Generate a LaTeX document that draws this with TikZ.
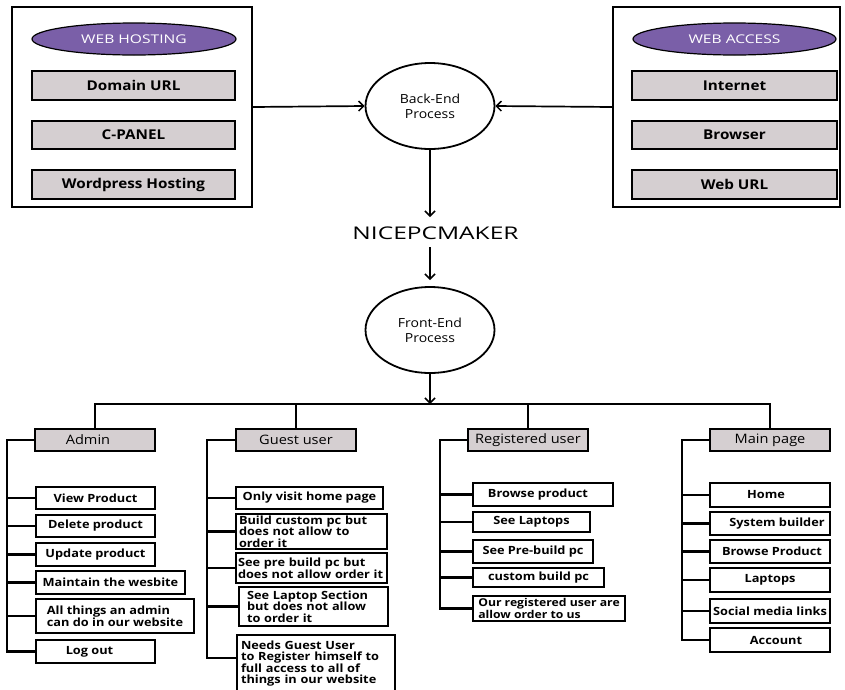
\documentclass[tikz,border=0pt]{standalone}
\usepackage{fontspec}
\setmainfont{Open Sans}
\newfontfamily\itemf{Open Sans}[FakeStretch=1.13]
\newfontfamily\headf{Open Sans}[FakeStretch=1.12]
\newfontfamily\ovalf{Open Sans}[FakeStretch=1.3]
\newfontfamily\titlef{Open Sans}[FakeStretch=1.4]
\usetikzlibrary{shapes.geometric,arrows.meta}
\definecolor{purp}{HTML}{7A5FA8}
\definecolor{grayfill}{HTML}{D5CFD1}
\begin{document}
\begin{tikzpicture}[x=1pt,y=-1pt,
  itemfont/.style={font=\itemf\fontsize{11.3}{11.6}\selectfont\bfseries},
  box/.style={draw,line width=1.7pt,fill=white,inner sep=1pt,itemfont},
  gbox/.style={draw,line width=1.7pt,fill=grayfill,inner sep=1pt,font=\itemf\fontsize{13.5}{14}\selectfont\bfseries},
  hbox/.style={draw,line width=1.7pt,fill=grayfill,inner sep=1pt,font=\headf\fontsize{13}{14}\selectfont,minimum width=120pt,minimum height=22pt},
  oval/.style={ellipse,draw,line width=1.2pt,fill=purp,text=white,font=\ovalf\fontsize{12}{13}\selectfont,minimum width=204pt,minimum height=32pt,inner sep=0pt},
  proc/.style={ellipse,draw,line width=1.8pt,fill=white,font=\headf\fontsize{12.5}{15}\selectfont,minimum width=129pt,minimum height=86pt,align=center,inner sep=0pt},
  outer/.style={draw,line width=1.7pt},
  arr/.style={line width=1.7pt,-{Straight Barb[length=5pt,width=10pt,line width=1.5pt]}},
  tree/.style={line width=2.6pt}
]
\useasboundingbox (0,0) rectangle (845,689);

% outer boxes
\node[outer,minimum width=240pt,minimum height=200pt] (lbox) at (132,107) {};
\node[outer,minimum width=227pt,minimum height=200pt] (rbox) at (726.5,107) {};

\node[oval] (wh) at (134,39) {WEB HOSTING};
\node[gbox,minimum width=203pt,minimum height=29pt] (l1) at (133.5,85.5) {Domain URL};
\node[gbox,minimum width=203pt,minimum height=28pt] (l2) at (133.5,135) {C-PANEL};
\node[gbox,minimum width=203pt,minimum height=29pt] (l3) at (133.5,184.5) {Wordpress Hosting};

\node[oval,minimum width=203pt] (wa) at (734.5,39) {WEB ACCESS};
\node[gbox,minimum width=205pt,minimum height=29pt] (r1) at (734.5,85.5) {Internet};
\node[gbox,minimum width=205pt,minimum height=28pt] (r2) at (734.5,135) {Browser};
\node[gbox,minimum width=205pt,minimum height=29pt] (r3) at (734.5,184.5) {Web URL};

% processes
\node[proc] (be) at (430,106) {Back-End\\Process};
\node[font=\titlef\fontsize{17.5}{18}\selectfont,inner sep=0pt] (nice) at (435.5,233) {NICEPCMAKER};
\node[proc] (fe) at (430,330) {Front-End\\Process};

\draw[arr] (lbox.east) -- (be.west);
\draw[arr] (rbox.west) -- (be.east);
\draw[arr] (be.south) -- (430,217);
\draw[arr] (430,247) -- (430,280);
\coordinate (bus) at (430,404);
\draw[arr] (fe.south) -- (bus);

% headers
\node[hbox] (admin) at (95,440) {Admin\hspace*{14pt}};
\node[hbox] (guest) at (296,440) {Guest user};
\node[hbox] (reg) at (528,440) {Registered user};
\node[hbox] (main) at (770,440) {Main page};

\draw[line width=1.6pt] (admin.north) -- (admin.north |- bus) -| (main.north);
\draw[line width=1.6pt] (guest.north) -- (guest.north |- bus);
\draw[line width=1.6pt] (reg.north) -- (reg.north |- bus);

% admin items
\node[box,minimum width=119pt,minimum height=22pt] (a1) at (95.5,498) {View Product};
\node[box,minimum width=119pt,minimum height=22pt] (a2) at (95.5,526) {Delete product};
\node[box,minimum width=119pt,minimum height=23pt] (a3) at (95.5,554.5) {Update product};
\node[box,minimum width=149pt,minimum height=23pt] (a4) at (110.5,582.5) {Maintain the wesbite};
\node[box,minimum width=158pt,minimum height=34pt,align=left] (a5) at (115,616) {All things an admin\\can do in our website};
\node[box,minimum width=119pt,minimum height=23pt] (a6) at (95.5,651.5) {Log out\hspace*{12pt}};
\draw[tree] (admin.west) -- ++(-27,0) coordinate (aT) -- (aT |- a6.west) -- (a6.west);
\foreach \n in {a1,a2,a3,a4,a5} \draw[tree] (\n.west) -- (\n.west -| aT);

% guest items
\node[box,minimum width=147pt,minimum height=22pt] (g1) at (309.5,498) {Only visit home page};
\node[box,minimum width=151pt,minimum height=35pt,text width=145pt,align=left] (g2) at (311.5,531.5) {Build custom pc but\\does not allow to\\order it};
\node[box,minimum width=151pt,minimum height=30pt,text width=147pt,align=left] (g3) at (311.5,568) {See pre build pc but\\does not allow order it};
\node[box,minimum width=149pt,minimum height=39pt,text width=133pt,align=left] (g4) at (313.5,606.5) {See Laptop Section\\but does not allow\\to order it};
\node[box,minimum width=158pt,minimum height=57pt,text width=150pt,align=left] (g5) at (316,663.5) {Needs Guest User\\to Register himself to\\full access to all of\\things in our website};
\draw[tree] (guest.west) -- ++(-28,0) coordinate (gT) -- (gT |- 0,658) -- (g5.west |- 0,658);
\draw[tree] (g1.west) -- (g1.west -| gT);
\draw[tree] (g2.west) -- (g2.west -| gT);
\draw[tree] (g3.west) -- (g3.west -| gT);
\draw[tree] (g4.west) -- (g4.west -| gT);

% registered items
\node[box,minimum width=140pt,minimum height=23pt] (rg1) at (543,494.5) {Browse product\hspace*{10pt}};
\node[box,minimum width=117pt,minimum height=20pt] (rg2) at (531.5,522) {See Laptops};
\node[box,minimum width=120pt,minimum height=23pt] (rg3) at (533,551.5) {See Pre-build pc};
\node[box,minimum width=131pt,minimum height=19pt] (rg4) at (538.5,577.5) {custom build pc};
\node[box,minimum width=152pt,minimum height=25pt,align=left,font=\itemf\fontsize{10.8}{11.2}\selectfont\bfseries] (rg5) at (549,608.5) {Our registered user are\\allow order to us};
\draw[tree] (reg.west) -- ++(-27,0) coordinate (rT) -- (rT |- rg5.west) -- (rg5.west);
\foreach \n in {rg1,rg2,rg3,rg4} \draw[tree] (\n.west) -- (\n.west -| rT);

% main page items
\node[box,minimum width=120pt,minimum height=24pt] (m1) at (770,495) {\hspace*{-8pt}Home};
\node[box,minimum width=120pt,minimum height=23pt] (m2) at (770,523.5) {\hspace*{14pt}System builder};
\node[box,minimum width=120pt,minimum height=23pt] (m3) at (770,551.5) {\hspace*{4pt}Browse Product};
\node[box,minimum width=120pt,minimum height=24pt] (m4) at (770,580) {Laptops};
\node[box,minimum width=120pt,minimum height=24pt] (m5) at (770,611) {Social media links};
\node[box,minimum width=120pt,minimum height=24pt] (m6) at (770,640) {\hspace*{12pt}Account};
\draw[tree] (main.west) -- ++(-27,0) coordinate (mT) -- (mT |- m6.west) -- (m6.west);
\foreach \n in {m1,m2,m3,m4,m5} \draw[tree] (\n.west) -- (\n.west -| mT);
\end{tikzpicture}
\end{document}
